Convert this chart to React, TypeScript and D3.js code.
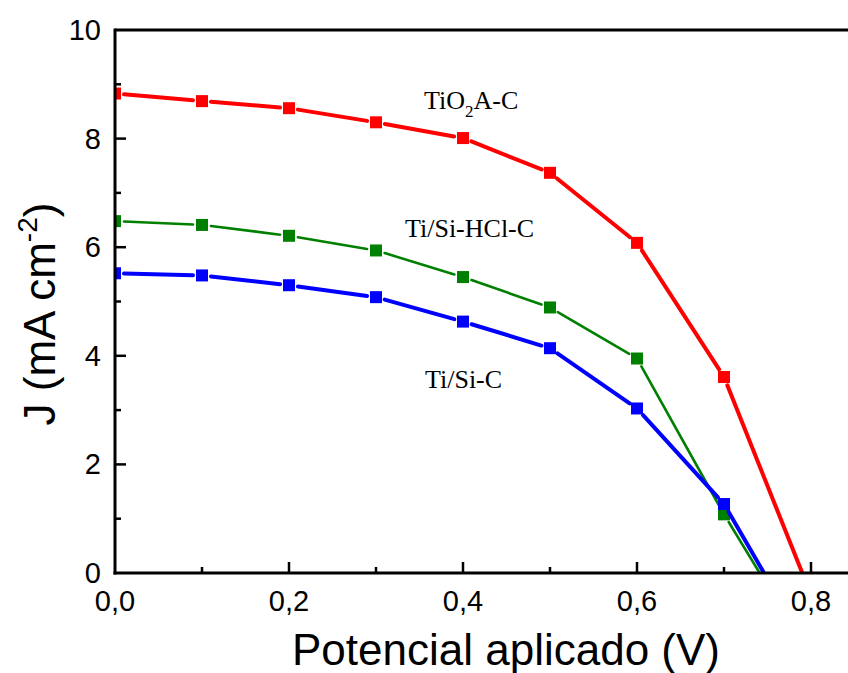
import React from "react";
import * as d3 from "d3";

// Applied potential (V) at each measured point
const voltage = [0, 0.1, 0.2, 0.3, 0.4, 0.5, 0.6, 0.7];

// Current density J (mA cm^-2) for each electrode
const jTiO2AC = [8.83, 8.69, 8.56, 8.3, 8.01, 7.37, 6.08, 3.61];
const jTiSiHClC = [6.48, 6.41, 6.21, 5.94, 5.45, 4.89, 3.95, 1.08];
const jTiSiC = [5.52, 5.48, 5.3, 5.08, 4.63, 4.14, 3.03, 1.27];

// Open-circuit potential where each curve reaches J = 0
const vocTiO2AC = 0.79;
const vocTiSiHClC = 0.741;
const vocTiSiC = 0.746;

const xMajorTicks = [0, 0.2, 0.4, 0.6, 0.8];
const xMinorTicks = [0.1, 0.3, 0.5, 0.7];
const yMajorTicks = [0, 2, 4, 6, 8, 10];
const yMinorTicks = [1, 3, 5, 7, 9];

const W = 848;
const H = 673;
const x0 = 115;
const pxPerVolt = 870;
const xMax = 0.85;
const yTop = 30;
const yBottom = 573;

const x = d3.scaleLinear().domain([0, xMax]).range([x0, x0 + xMax * pxPerVolt]);
const y = d3.scaleLinear().domain([0, 10]).range([yBottom, yTop]);

const fmtX = (v: number) => d3.format(".1f")(v).replace(".", ",");

type Series = {
  name: string;
  values: number[];
  voc: number;
  color: string;
  width: number;
};

const series: Series[] = [
  { name: "TiO2A-C", values: jTiO2AC, voc: vocTiO2AC, color: "#ff0000", width: 4 },
  { name: "Ti/Si-HCl-C", values: jTiSiHClC, voc: vocTiSiHClC, color: "#008000", width: 2.6 },
  { name: "Ti/Si-C", values: jTiSiC, voc: vocTiSiC, color: "#0000ff", width: 4 },
];

const markerSize = 12;
const gap = 9;

// Line segments stop short of the square symbols, leaving a small gap
function segments(s: Series) {
  const pts = voltage.map((v, i) => ({ px: x(v), py: y(s.values[i]), marked: true }));
  pts.push({ px: x(s.voc), py: y(0), marked: false });
  const segs: { x1: number; y1: number; x2: number; y2: number }[] = [];
  for (let i = 0; i < pts.length - 1; i++) {
    const a = pts[i];
    const b = pts[i + 1];
    const dx = b.px - a.px;
    const dy = b.py - a.py;
    const len = Math.hypot(dx, dy);
    const ux = dx / len;
    const uy = dy / len;
    const s0 = a.marked ? gap : 0;
    const s1 = b.marked ? gap : 0;
    segs.push({
      x1: a.px + ux * s0,
      y1: a.py + uy * s0,
      x2: b.px - ux * s1,
      y2: b.py - uy * s1,
    });
  }
  return segs;
}

export default function App() {
  const sans = "'Liberation Sans', Arial, sans-serif";
  const serif = "'Liberation Serif', 'Times New Roman', serif";
  const xEnd = x(xMax);
  return (
    <svg
      width={W}
      height={H}
      style={{ position: "absolute", left: 0, top: 0, background: "#fff" }}
      xmlns="http://www.w3.org/2000/svg"
    >
      <defs>
        <clipPath id="plot-area">
          <rect x={x0} y={yTop - 10} width={xEnd - x0 + 10} height={yBottom - yTop + 10} />
        </clipPath>
      </defs>
      <rect width={W} height={H} fill="#fff" />

      <g clipPath="url(#plot-area)">
        {series.map((s) => (
          <g key={s.name}>
            {segments(s).map((sg, i) => (
              <line
                key={i}
                x1={sg.x1}
                y1={sg.y1}
                x2={sg.x2}
                y2={sg.y2}
                stroke={s.color}
                strokeWidth={s.width}
                strokeLinecap="round"
              />
            ))}
            {voltage.map((v, i) => (
              <rect
                key={i}
                x={x(v) - markerSize / 2}
                y={y(s.values[i]) - markerSize / 2}
                width={markerSize}
                height={markerSize}
                fill={s.color}
              />
            ))}
          </g>
        ))}
      </g>

      {/* Axis frame */}
      <line x1={x0} y1={yTop} x2={xEnd + 5} y2={yTop} stroke="#000" strokeWidth={3} />
      <line x1={x0} y1={yTop - 1.5} x2={x0} y2={yBottom + 1.5} stroke="#000" strokeWidth={3} />
      <line x1={x0 - 1.5} y1={yBottom} x2={xEnd + 5} y2={yBottom} stroke="#000" strokeWidth={3} />

      {/* X ticks */}
      {xMajorTicks.map((t) => (
        <g key={"xM" + t}>
          {t > 0 && (
            <line x1={x(t)} y1={yBottom} x2={x(t)} y2={yBottom - 11} stroke="#000" strokeWidth={2.5} />
          )}
          <text
            x={x(t)}
            y={611}
            textAnchor="middle"
            fontFamily={sans}
            fontSize={29}
            fill="#000"
          >
            {fmtX(t)}
          </text>
        </g>
      ))}
      {xMinorTicks.map((t) => (
        <line key={"xm" + t} x1={x(t)} y1={yBottom} x2={x(t)} y2={yBottom - 6} stroke="#000" strokeWidth={2.5} />
      ))}

      {/* Y ticks */}
      {yMajorTicks.map((t) => (
        <g key={"yM" + t}>
          {t > 0 && t < 10 && (
            <line x1={x0} y1={y(t)} x2={x0 + 11} y2={y(t)} stroke="#000" strokeWidth={2.5} />
          )}
          <text
            x={101}
            y={y(t) + 10}
            textAnchor="end"
            fontFamily={sans}
            fontSize={29}
            fill="#000"
          >
            {t}
          </text>
        </g>
      ))}
      {yMinorTicks.map((t) => (
        <line key={"ym" + t} x1={x0} y1={y(t)} x2={x0 + 6} y2={y(t)} stroke="#000" strokeWidth={2.5} />
      ))}

      {/* Axis titles */}
      <text x={506} y={665} textAnchor="middle" fontFamily={sans} fontSize={44} fill="#000">
        Potencial aplicado (V)
      </text>
      <text
        transform="translate(55,314) rotate(-90)"
        textAnchor="middle"
        fontFamily={sans}
        fontSize={44}
        fill="#000"
      >
        J (mA cm
        <tspan fontSize={28} dy={-18}>-2</tspan>
        <tspan dy={18}>)</tspan>
      </text>

      {/* Curve labels */}
      <text x={424} y={109} fontFamily={serif} fontSize={26} fill="#000">
        TiO
        <tspan fontSize={17} dy={8}>2</tspan>
        <tspan dy={-8}>A-C</tspan>
      </text>
      <text x={405} y={237} fontFamily={serif} fontSize={26} fill="#000">
        Ti/Si-HCl-C
      </text>
      <text x={425} y={388} fontFamily={serif} fontSize={26} fill="#000">
        Ti/Si-C
      </text>
    </svg>
  );
}
